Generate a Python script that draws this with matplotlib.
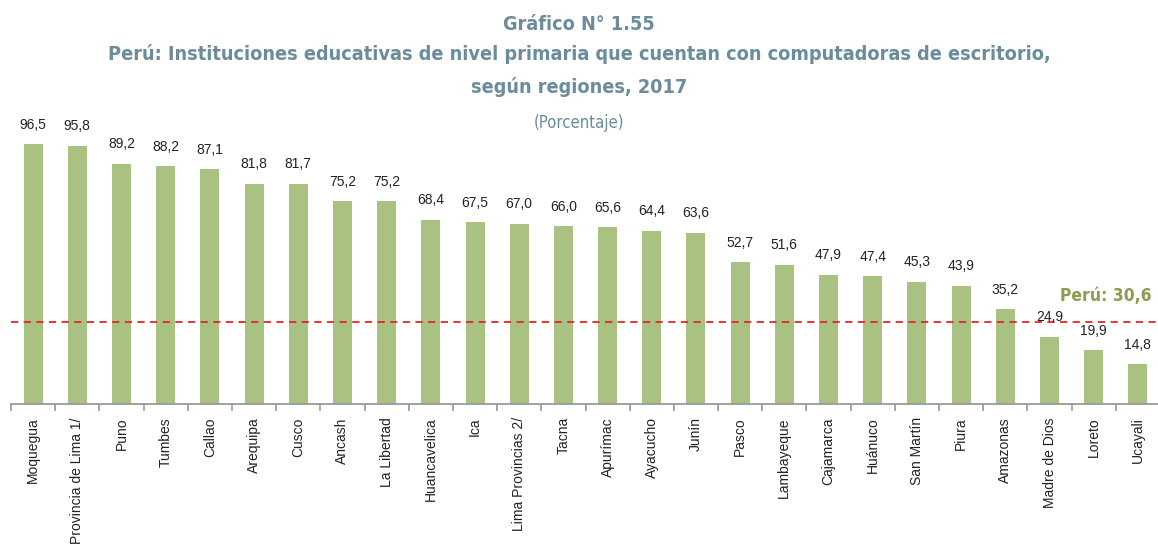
import matplotlib
matplotlib.use("Agg")
import matplotlib.pyplot as plt
from matplotlib.ticker import FixedLocator

regiones = ["Moquegua", "Provincia de Lima 1/", "Puno", "Tumbes", "Callao",
            "Arequipa", "Cusco", "Ancash", "La Libertad", "Huancavelica", "Ica",
            "Lima Provincias 2/", "Tacna", "Apurímac", "Ayacucho", "Junín",
            "Pasco", "Lambayeque", "Cajamarca", "Huánuco", "San Martín",
            "Piura", "Amazonas", "Madre de Dios", "Loreto", "Ucayali"]
porcentaje = [96.5, 95.8, 89.2, 88.2, 87.1, 81.8, 81.7, 75.2, 75.2, 68.4, 67.5,
              67.0, 66.0, 65.6, 64.4, 63.6, 52.7, 51.6, 47.9, 47.4, 45.3, 43.9,
              35.2, 24.9, 19.9, 14.8]
peru = 30.6

titulo = ["Gráfico N° 1.55",
          "Perú: Instituciones educativas de nivel primaria que cuentan con computadoras de escritorio,",
          "según regiones, 2017"]
subtitulo = "(Porcentaje)"

color_barra = "#a9c181"
color_titulo = "#6b8d9b"
fuente_titulo = dict(family="DejaVu Sans", fontstretch="condensed")

W, H = 1158, 546
fig = plt.figure(figsize=(W / 100, H / 100), dpi=100)
ax = fig.add_axes([11 / W, 142 / H, 1149 / W, 269.4 / H])

x = range(len(regiones))
ax.bar(x, porcentaje, width=0.43, color=color_barra)
for i, v in zip(x, porcentaje):
    ax.annotate(f"{v:.1f}".replace(".", ","), xy=(i, v), xytext=(0, 9),
                textcoords="offset points", ha="center", va="bottom",
                fontsize=10, family="Liberation Sans", color="#222222")

# national average
ax.axhline(peru, color="#e2262b", lw=1.3, ls=(0, (4, 3)))
ax.annotate(f"Perú: {peru:.1f}".replace(".", ","), xy=(0.993, peru),
            xycoords=("axes fraction", "data"), xytext=(0, 12),
            textcoords="offset points", ha="right", va="bottom",
            fontsize=12.5, fontweight="bold", color="#8b9d4f", **fuente_titulo)

ax.set_xlim(-0.5, len(regiones) - 0.5)
ax.set_ylim(0, 100)
for s in ["top", "right", "left"]:
    ax.spines[s].set_visible(False)
ax.spines["bottom"].set_color("#9a9a9a")
ax.spines["bottom"].set_linewidth(1.3)
ax.set_yticks([])
ax.set_xticks(list(x))
ax.set_xticklabels(regiones, rotation=90, fontsize=10, family="Liberation Sans",
                   color="#222222")
ax.tick_params(axis="x", which="major", length=0, pad=9.5)
ax.xaxis.set_minor_locator(FixedLocator([i - 0.5 for i in range(len(regiones) + 1)]))
ax.tick_params(axis="x", which="minor", length=5, width=1.2, color="#9a9a9a")

fig.text(0.5, 1 - 24 / H, titulo[0], ha="center", va="center", fontsize=14.2,
         fontweight="bold", color=color_titulo, **fuente_titulo)
fig.text(0.5, 1 - 54 / H, titulo[1], ha="center", va="center", fontsize=14.2,
         fontweight="bold", color=color_titulo, **fuente_titulo)
fig.text(0.5, 1 - 87 / H, titulo[2], ha="center", va="center", fontsize=14.2,
         fontweight="bold", color=color_titulo, **fuente_titulo)
fig.text(0.5, 1 - 123 / H, subtitulo, ha="center", va="center", fontsize=12,
         color=color_titulo, **fuente_titulo)

fig.savefig("out.png", dpi=100)
